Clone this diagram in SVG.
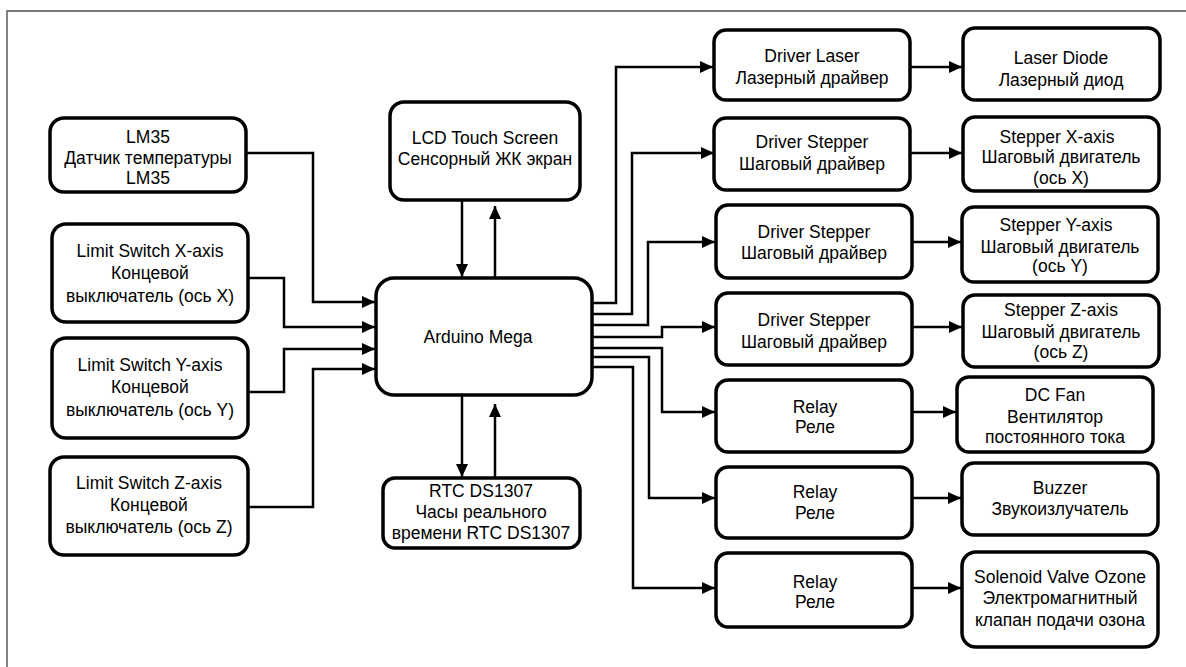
<svg xmlns="http://www.w3.org/2000/svg" width="1186" height="667" viewBox="0 0 1186 667">
<defs>
<style>
.box{fill:#fff;stroke:#000;stroke-width:3.5}
.t{font-family:"Liberation Sans",Arial,sans-serif;font-size:17.5px;fill:#000;text-anchor:middle}
.c{fill:none;stroke:#000;stroke-width:2.5}
</style>
<marker id="ah" markerUnits="userSpaceOnUse" markerWidth="13" markerHeight="12" refX="13" refY="6" orient="auto">
<path d="M0,0 L13,6 L0,12 z" fill="#000"/>
</marker>
</defs>
<rect width="1186" height="667" fill="#fff"/>
<path d="M7,700 V11 H1200" fill="none" stroke="#777" stroke-width="1.8"/>

<g id="connectors">
<path class="c" d="M246,153 H313 V302 H375" marker-end="url(#ah)"/>
<path class="c" d="M248,278 H284 V327 H375" marker-end="url(#ah)"/>
<path class="c" d="M248,392 H284 V349 H375" marker-end="url(#ah)"/>
<path class="c" d="M248,507 H313 V369 H375" marker-end="url(#ah)"/>
<path class="c" d="M462,200 V277" marker-end="url(#ah)"/>
<path class="c" d="M495,278 V206" marker-end="url(#ah)"/>
<path class="c" d="M462,395 V477" marker-end="url(#ah)"/>
<path class="c" d="M495,478 V404" marker-end="url(#ah)"/>
<path class="c" d="M592,303 H616 V67 H713" marker-end="url(#ah)"/>
<path class="c" d="M592,314 H632 V153 H714" marker-end="url(#ah)"/>
<path class="c" d="M592,325 H648 V242 H715" marker-end="url(#ah)"/>
<path class="c" d="M592,337 H662 V327 H715" marker-end="url(#ah)"/>
<path class="c" d="M592,348 H662 V412 H715" marker-end="url(#ah)"/>
<path class="c" d="M592,357 H649 V498 H715" marker-end="url(#ah)"/>
<path class="c" d="M592,367 H633 V588 H715" marker-end="url(#ah)"/>
<path class="c" d="M910,67 H962" marker-end="url(#ah)"/>
<path class="c" d="M910,153 H962" marker-end="url(#ah)"/>
<path class="c" d="M912,242 H961" marker-end="url(#ah)"/>
<path class="c" d="M912,327 H962" marker-end="url(#ah)"/>
<path class="c" d="M912,412 H956" marker-end="url(#ah)"/>
<path class="c" d="M912,498 H961" marker-end="url(#ah)"/>
<path class="c" d="M912,588 H961" marker-end="url(#ah)"/>
</g>

<g id="lm35">
<rect class="box" x="50" y="118" width="196" height="74" rx="14"/>
<text class="t" x="148" y="143">LM35</text>
<text class="t" x="148" y="164">Датчик температуры</text>
<text class="t" x="148" y="184">LM35</text>
</g>
<g id="limit-x">
<rect class="box" x="52" y="224" width="196" height="98" rx="14"/>
<text class="t" x="150" y="257">Limit Switch X-axis</text>
<text class="t" x="150" y="279">Концевой</text>
<text class="t" x="150" y="302">выключатель (ось X)</text>
</g>
<g id="limit-y">
<rect class="box" x="52" y="338" width="196" height="100" rx="14"/>
<text class="t" x="150" y="371">Limit Switch Y-axis</text>
<text class="t" x="150" y="393">Концевой</text>
<text class="t" x="150" y="416">выключатель (ось Y)</text>
</g>
<g id="limit-z">
<rect class="box" x="50" y="457" width="198" height="98" rx="14"/>
<text class="t" x="149" y="489">Limit Switch Z-axis</text>
<text class="t" x="149" y="511">Концевой</text>
<text class="t" x="149" y="533">выключатель (ось Z)</text>
</g>
<g id="lcd">
<rect class="box" x="390" y="102" width="190" height="98" rx="14"/>
<text class="t" x="485" y="144">LCD Touch Screen</text>
<text class="t" x="485" y="165">Сенсорный ЖК экран</text>
</g>
<g id="arduino">
<rect class="box" x="376" y="278" width="216" height="117" rx="18"/>
<text class="t" x="478" y="343">Arduino Mega</text>
</g>
<g id="rtc">
<rect class="box" x="383" y="478" width="197" height="70" rx="12"/>
<text class="t" x="481" y="497">RTC DS1307</text>
<text class="t" x="481" y="518">Часы реального</text>
<text class="t" x="481" y="539">времени RTC DS1307</text>
</g>

<g id="driver-laser">
<rect class="box" x="714" y="30" width="196" height="70" rx="12"/>
<text class="t" x="812" y="62">Driver Laser</text>
<text class="t" x="812" y="84">Лазерный драйвер</text>
</g>
<g id="driver-x">
<rect class="box" x="714" y="118" width="196" height="72" rx="12"/>
<text class="t" x="812" y="148">Driver Stepper</text>
<text class="t" x="812" y="170">Шаговый драйвер</text>
</g>
<g id="driver-y">
<rect class="box" x="716" y="205" width="196" height="73" rx="12"/>
<text class="t" x="814" y="238">Driver Stepper</text>
<text class="t" x="814" y="259">Шаговый драйвер</text>
</g>
<g id="driver-z">
<rect class="box" x="716" y="293" width="196" height="72" rx="12"/>
<text class="t" x="814" y="326">Driver Stepper</text>
<text class="t" x="814" y="348">Шаговый драйвер</text>
</g>
<g id="relay-1">
<rect class="box" x="716" y="380" width="196" height="72" rx="12"/>
<text class="t" x="815" y="413">Relay</text>
<text class="t" x="815" y="433">Реле</text>
</g>
<g id="relay-2">
<rect class="box" x="716" y="467" width="196" height="71" rx="12"/>
<text class="t" x="815" y="498">Relay</text>
<text class="t" x="815" y="519">Реле</text>
</g>
<g id="relay-3">
<rect class="box" x="716" y="553" width="196" height="74" rx="12"/>
<text class="t" x="815" y="588">Relay</text>
<text class="t" x="815" y="608">Реле</text>
</g>

<g id="laser-diode">
<rect class="box" x="963" y="28" width="197" height="72" rx="12"/>
<text class="t" x="1061" y="64">Laser Diode</text>
<text class="t" x="1061" y="86">Лазерный диод</text>
</g>
<g id="stepper-x">
<rect class="box" x="963" y="117" width="196" height="74" rx="12"/>
<text class="t" x="1057" y="143">Stepper X-axis</text>
<text class="t" x="1061" y="163">Шаговый двигатель</text>
<text class="t" x="1061" y="184">(ось X)</text>
</g>
<g id="stepper-y">
<rect class="box" x="962" y="207" width="196" height="75" rx="12"/>
<text class="t" x="1056" y="231">Stepper Y-axis</text>
<text class="t" x="1060" y="253">Шаговый двигатель</text>
<text class="t" x="1060" y="272">(ось Y)</text>
</g>
<g id="stepper-z">
<rect class="box" x="963" y="295" width="196" height="72" rx="12"/>
<text class="t" x="1061" y="316">Stepper Z-axis</text>
<text class="t" x="1061" y="338">Шаговый двигатель</text>
<text class="t" x="1061" y="358">(ось Z)</text>
</g>
<g id="dc-fan">
<rect class="box" x="957" y="377" width="196" height="75" rx="12"/>
<text class="t" x="1055" y="401">DC Fan</text>
<text class="t" x="1055" y="423">Вентилятор</text>
<text class="t" x="1055" y="443">постоянного тока</text>
</g>
<g id="buzzer">
<rect class="box" x="962" y="463" width="196" height="72" rx="12"/>
<text class="t" x="1060" y="494">Buzzer</text>
<text class="t" x="1060" y="515">Звукоизлучатель</text>
</g>
<g id="solenoid">
<rect class="box" x="962" y="552" width="196" height="95" rx="14"/>
<text class="t" x="1060" y="583">Solenoid Valve Ozone</text>
<text class="t" x="1060" y="604">Электромагнитный</text>
<text class="t" x="1060" y="626">клапан подачи озона</text>
</g>
</svg>
